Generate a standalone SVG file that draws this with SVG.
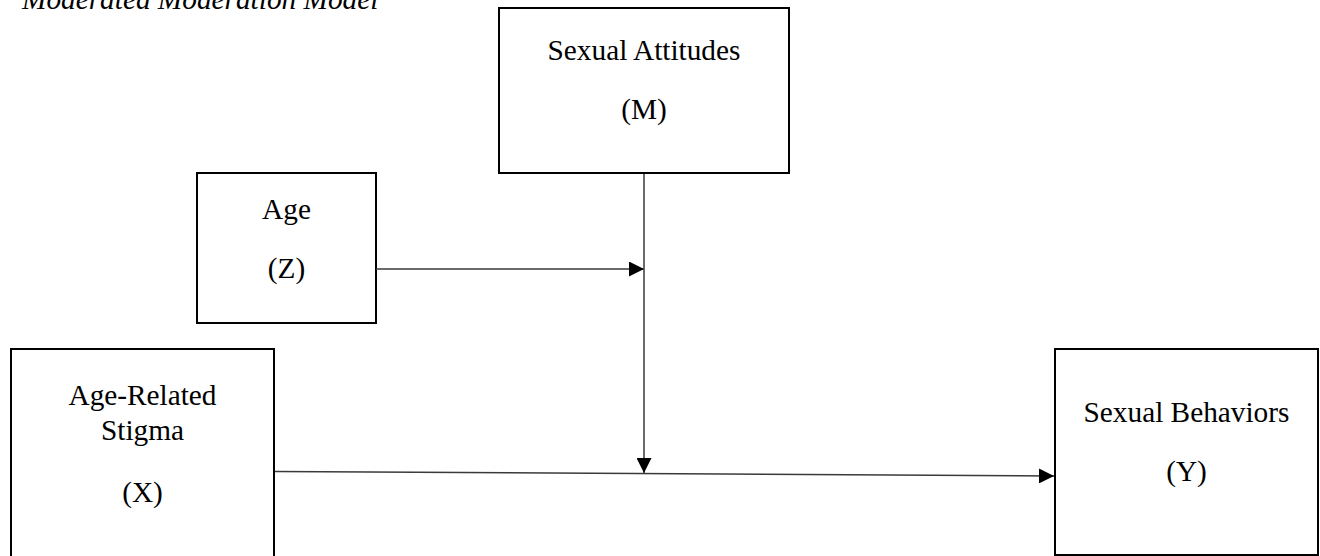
<svg xmlns="http://www.w3.org/2000/svg" width="1320" height="556" viewBox="0 0 1320 556">
<defs>
<style>
.box{fill:#fff;stroke:#000;stroke-width:2}
.t{font-family:"Liberation Serif","Times New Roman",serif;font-size:29.3px;fill:#000;text-anchor:middle}
.title{font-family:"Liberation Serif","Times New Roman",serif;font-size:29.3px;font-style:italic;fill:#000}
.c{stroke:#3a3a3a;stroke-width:1.5;fill:none}
</style>
<marker id="ah" markerWidth="15" markerHeight="15" refX="15" refY="7.5" orient="auto" markerUnits="userSpaceOnUse">
<path d="M0,0 L15,7.5 L0,15 Z" fill="#000"/>
</marker>
</defs>
<rect width="1320" height="556" fill="#fff"/>
<text class="title" x="22" y="9">Moderated Moderation Model</text>
<g id="nodeM">
<rect class="box" x="499" y="8" width="290" height="165"/>
<text class="t" x="644" y="60">Sexual Attitudes</text>
<text class="t" x="644" y="119">(M)</text>
</g>
<g id="nodeZ">
<rect class="box" x="197" y="173" width="179" height="150"/>
<text class="t" x="286.5" y="219">Age</text>
<text class="t" x="286.5" y="278">(Z)</text>
</g>
<g id="nodeX">
<rect class="box" x="11" y="349" width="263" height="215"/>
<text class="t" x="142.5" y="405">Age-Related</text>
<text class="t" x="142.5" y="440">Stigma</text>
<text class="t" x="142.5" y="502">(X)</text>
</g>
<g id="nodeY">
<rect class="box" x="1055" y="349" width="263" height="206"/>
<text class="t" x="1186.5" y="422">Sexual Behaviors</text>
<text class="t" x="1186.5" y="481">(Y)</text>
</g>
<g id="connectors">
<line class="c" x1="376" y1="269" x2="644" y2="269" marker-end="url(#ah)"/>
<line class="c" x1="644" y1="174" x2="644" y2="473" marker-end="url(#ah)"/>
<line class="c" x1="275" y1="471.5" x2="1054" y2="476" marker-end="url(#ah)"/>
</g>
</svg>
